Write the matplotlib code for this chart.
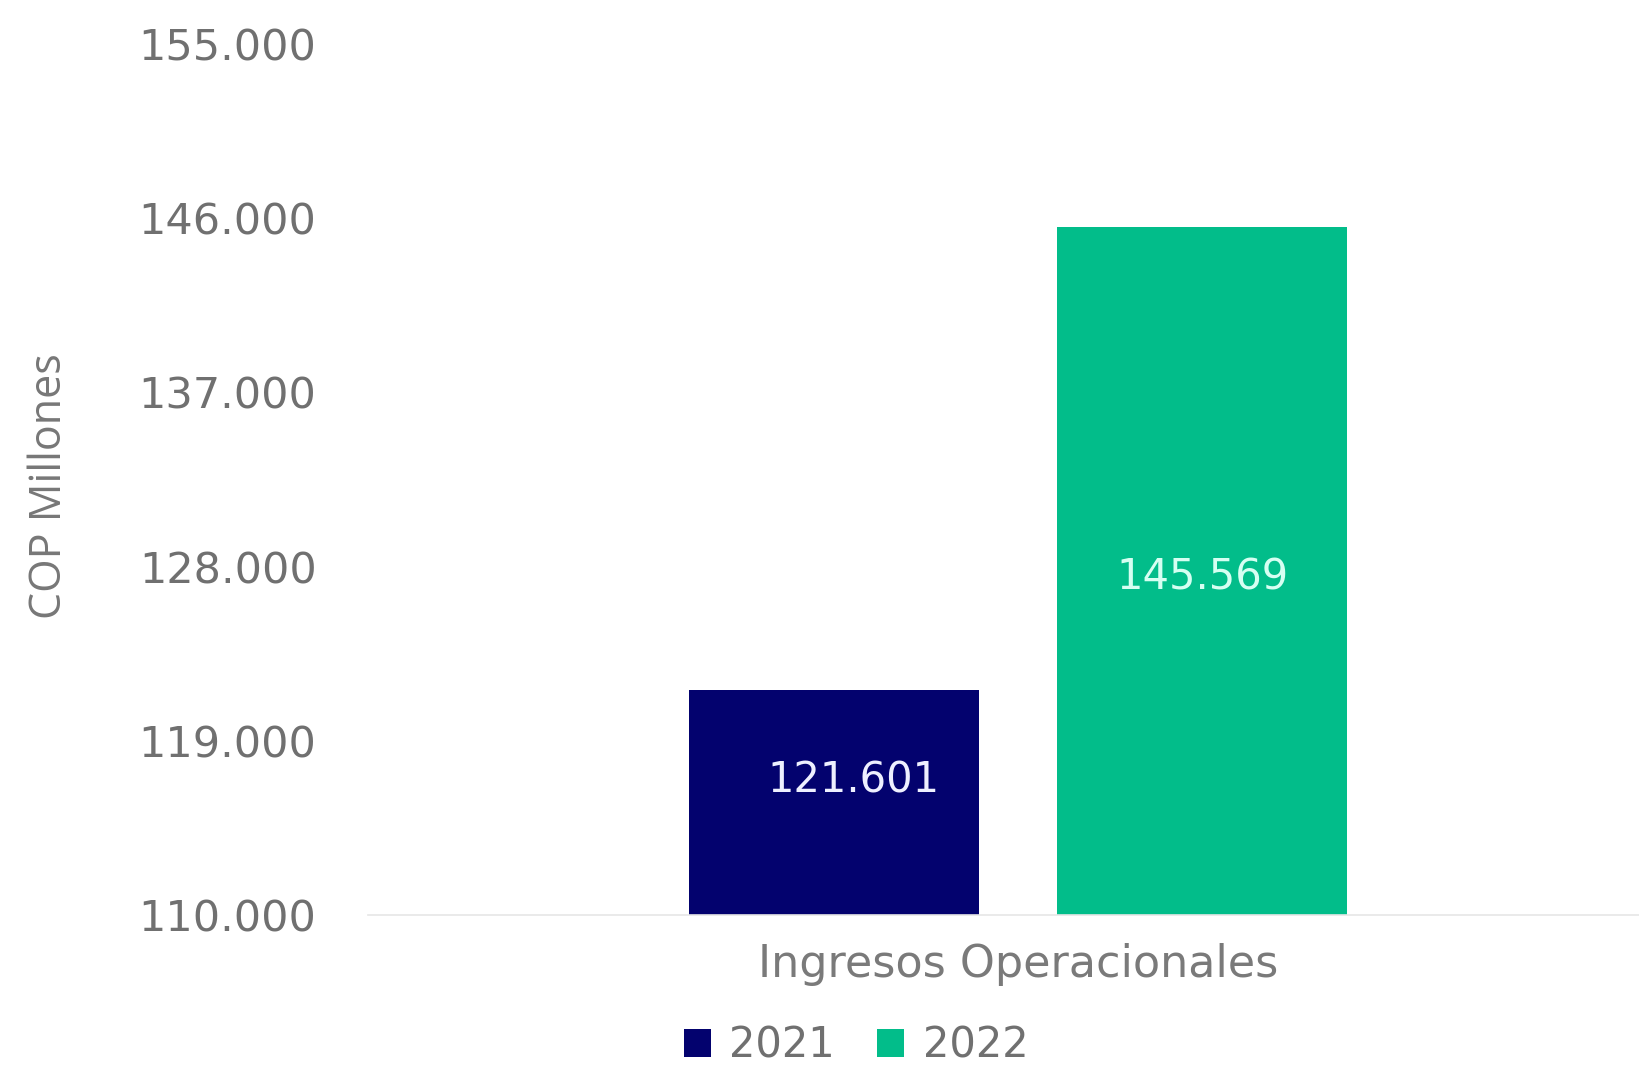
import matplotlib.pyplot as plt

categories = ['Ingresos Operacionales']
years = ['2021', '2022']
values = [121601, 145569]
labels = ['121.601', '145.569']
yticks = [110000, 119000, 128000, 137000, 146000, 155000]
ytick_labels = ['110.000', '119.000', '128.000', '137.000', '146.000', '155.000']

colors = ['#03026e', '#02bd8a']
label_colors = ['#eef0ff', '#d6fff2']
offsets = [-0.29, 0.29]
label_dx = [0.03, 0.0]
label_frac = [0.6, 0.49]
width = 0.456

plt.rcParams['font.family'] = ['DejaVu Sans']

fig = plt.figure(figsize=(16.39, 10.68), dpi=100)
ax = fig.add_axes([368 / 1639, 1 - 915 / 1068, 1 - 368 / 1639, (915 - 44) / 1068])

for i in range(len(years)):
    ax.bar(offsets[i], values[i] - yticks[0], width, bottom=yticks[0],
           color=colors[i], label=years[i])
    ax.text(offsets[i] + label_dx[i], yticks[0] + (values[i] - yticks[0]) * label_frac[i],
            labels[i], ha='center', va='center', color=label_colors[i], fontsize=30)

ax.set_xlim(-1.024, 0.978)
ax.set_ylim(yticks[0], yticks[-1])
ax.set_yticks(yticks)
ax.set_yticklabels(ytick_labels, fontsize=31, color='#707070')
ax.set_xticks([0])
ax.set_xticklabels(categories, fontsize=32, color='#7a7a7a')
ax.tick_params(axis='both', length=0)
ax.tick_params(axis='y', pad=37)
ax.tick_params(axis='x', pad=20)

for s in ['top', 'right', 'left']:
    ax.spines[s].set_visible(False)
ax.spines['bottom'].set_color('#e6e6e6')
ax.spines['bottom'].set_linewidth(1.2)

fig.text(50 / 1639, 1 - 486 / 1068, 'COP Millones', rotation=90, ha='center',
         va='center', fontsize=31, color='#777777', family=['Open Sans', 'DejaVu Sans'])

ax.legend(loc='center', bbox_to_anchor=(856 / 1639, 1 - 1046 / 1068),
          bbox_transform=fig.transFigure, ncol=2, frameon=False, fontsize=30,
          handlelength=0.65, handleheight=0.65, handletextpad=0.45, columnspacing=1.0,
          labelcolor='#707070', borderpad=0.1)

fig.savefig('out.png', dpi=100)
